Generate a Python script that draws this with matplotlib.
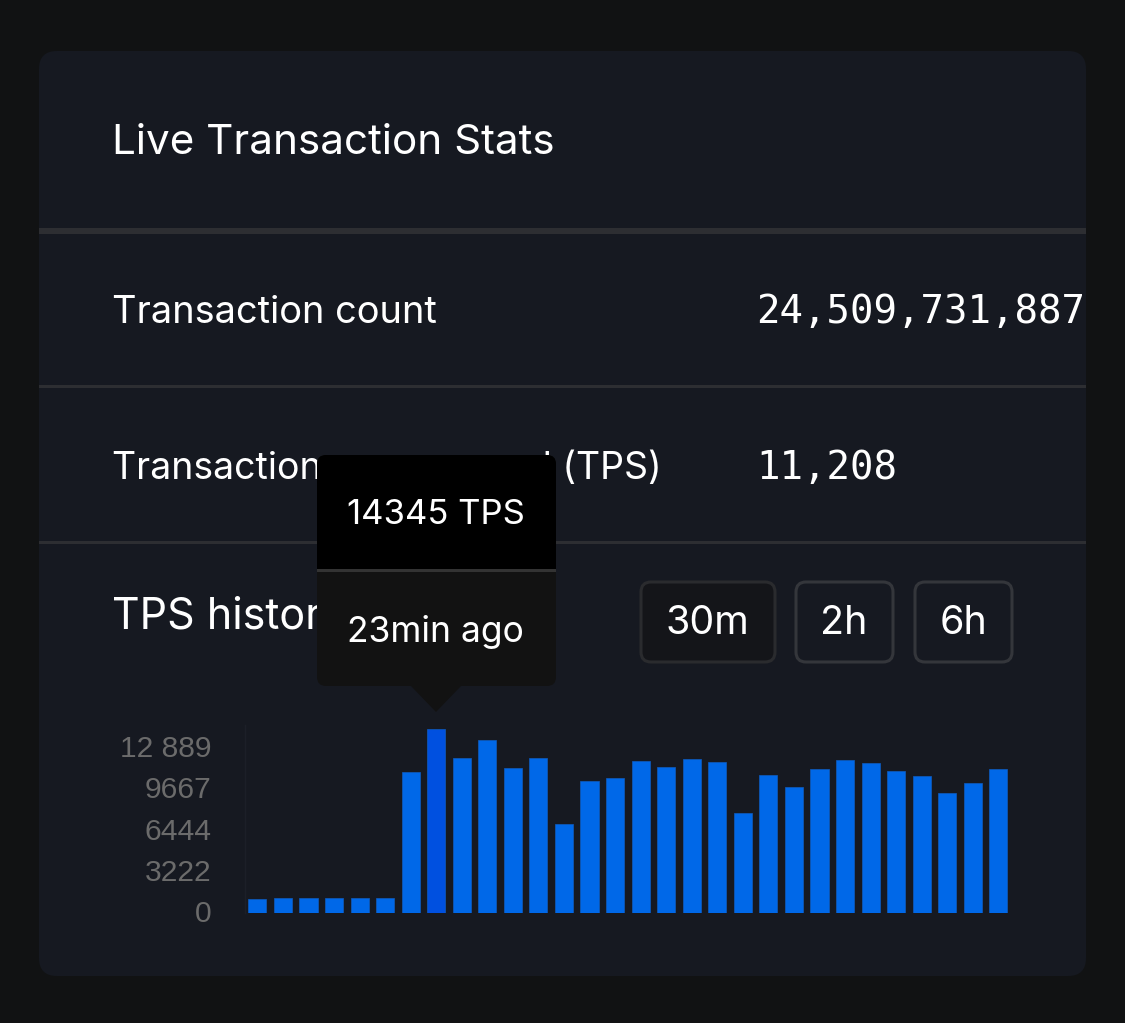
import matplotlib
matplotlib.use('Agg')
import matplotlib.pyplot as plt
from matplotlib.patches import FancyBboxPatch, Rectangle, Polygon
from matplotlib.transforms import ScaledTranslation

# TPS history
tps = [1067, 1120, 1120, 1120, 1120, 1120, 10960, 14345, 12080, 13510,
       11300, 12080, 6925, 10255, 10542, 11870, 11350, 12000, 11765, 7783,
       10725, 9840, 11193, 11923, 11662, 11063, 10672, 9346, 10125, 11193]
hover_index = 7
y_ticks = [0, 3222, 6444, 9667, 12889]
y_tick_labels = ['0', '3222', '6444', '9667', '12 889']
range_buttons = ['30m', '2h', '6h']

W, H = 1125, 1023
BG = '#111213'
CARD = '#161921'
LINE = '#2d2e32'
UI_FONT = 'Inter'

fig = plt.figure(figsize=(W / 100, H / 100), dpi=100, facecolor=BG)

# background axes in pixel coordinates for the card, rows and tooltip
ui = fig.add_axes([0, 0, 1, 1], zorder=1)
ui.set_xlim(0, W)
ui.set_ylim(H, 0)
ui.axis('off')


def box(x0, y0, x1, y1, r, fc, ec='none', lw=0, z=1):
    p = FancyBboxPatch((x0 + r, y0 + r), x1 - x0 - 2 * r, y1 - y0 - 2 * r,
                       boxstyle='round,pad=%f,rounding_size=%f' % (r, r),
                       fc=fc, ec=ec, lw=lw, zorder=z)
    ui.add_patch(p)
    return p


box(39, 51, 1086, 976, 18, CARD)

ui.add_patch(Rectangle((39, 228), 1047, 6, fc=LINE, ec='none', zorder=2))
ui.add_patch(Rectangle((39, 385), 1047, 3, fc=LINE, ec='none', zorder=2))
ui.add_patch(Rectangle((39, 541), 1047, 3, fc=LINE, ec='none', zorder=2))

ui.text(111.5, 143.5, 'Live Transaction Stats', color='white', fontsize=30.4, family=UI_FONT, va='center', zorder=3)
ui.text(111.5, 313, 'Transaction count', color='white', fontsize=27.4, family=UI_FONT, va='center', zorder=3)
ui.text(111.5, 468, 'Transactions per second (TPS)', color='white', fontsize=27, family=UI_FONT, va='center', zorder=3)
ui.text(111.5, 616.5, 'TPS history', color='white', fontsize=31, family=UI_FONT, va='center', zorder=3)
ui.text(756.5, 312.5, '24,509,731,887', color='white', fontsize=28.1, family='DejaVu Sans Mono', va='center', zorder=3)
ui.text(756.5, 467.5, '11,208', color='white', fontsize=28.1, family='DejaVu Sans Mono', va='center', zorder=3)

# range buttons, first one is active
spans = [(641, 775), (796, 893), (915, 1012)]
for i, (label, (x0, x1)) in enumerate(zip(range_buttons, spans)):
    fc = '#141519' if i == 0 else CARD
    ec = '#2a2b2e' if i == 0 else '#34363b'
    box(x0, 582, x1, 662, 10, fc, ec=ec, lw=2.2, z=3)
    ui.text((x0 + x1) / 2 - 0.5, 624, label, color='white', fontsize=28.4, family=UI_FONT,
            ha='center', va='center', zorder=4)

# tooltip: black upper half, grey lower half, little arrow under it
box(317, 455, 556, 686, 9, '#121212', z=6)
box(317, 455, 556, 520, 9, 'black', z=7)
ui.add_patch(Rectangle((317, 480), 239, 89, fc='black', ec='none', zorder=7))
ui.add_patch(Rectangle((317, 569), 239, 3, fc='#333333', ec='none', zorder=8))
ui.add_patch(Polygon([(410, 685), (462, 685), (436, 712)], closed=True, fc='#121212', ec='none', zorder=6))
ui.text(436, 515.5, '14345 TPS', color='white', fontsize=25, family=UI_FONT, ha='center', va='center', zorder=10)
ui.text(435.5, 632, '23min ago', color='white', fontsize=25.5, family=UI_FONT, ha='center', va='center', zorder=10)

# bar chart axes
left, right, bottom, top_px = 245, 1010, 912.7, 725
ax = fig.add_axes([left / W, 1 - bottom / H, (right - left) / W, (bottom - top_px) / H], zorder=2)
ax.patch.set_alpha(0)
pitch = 25.55
first = 257.35
ax.set_xlim((left - first) / pitch, (right - first) / pitch)
ax.set_ylim(0, (bottom - top_px) * 78.09)
colors = ['#0050e0' if i == hover_index else '#0068e8' for i in range(len(tps))]
ax.bar(range(len(tps)), tps, width=18.1 / pitch, color=colors, edgecolor='#0f5cc0', linewidth=0.5)
ax.set_xticks([])
ax.set_yticks(y_ticks)
ax.set_yticklabels(y_tick_labels, family='Liberation Sans', fontsize=21.6, color='#6b6b6b')
ax.tick_params(axis='y', length=0, pad=24)
# labels sit a little above their tick positions
shift = ScaledTranslation(0, 1.5 / 100, fig.dpi_scale_trans)
for lab in ax.get_yticklabels():
    lab.set_transform(lab.get_transform() + shift)
for name in ['top', 'right', 'bottom']:
    ax.spines[name].set_visible(False)
ax.spines['left'].set_color('#1c1f28')
ax.spines['left'].set_linewidth(1)

fig.savefig('out.png', dpi=100, facecolor=BG)
